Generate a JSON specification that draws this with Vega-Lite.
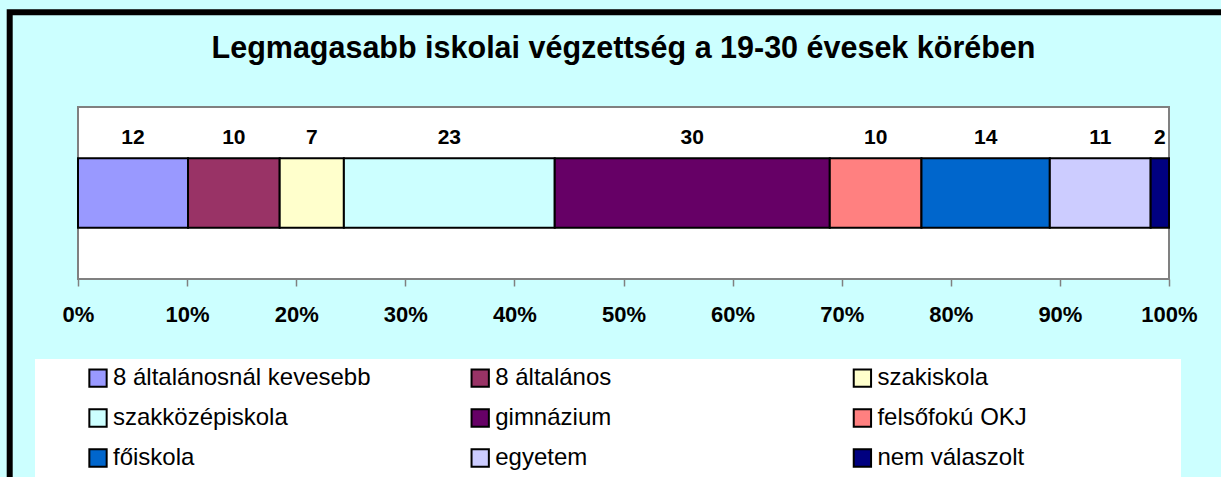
{
  "$schema": "https://vega.github.io/schema/vega-lite/v6.json",
  "autosize": {"type": "none"},
  "width": 1091,
  "height": 172,
  "padding": {"left": 78, "top": 107, "right": 52, "bottom": 198},
  "background": "#CCFFFF",
  "title": {
    "text": "Legmagasabb iskolai végzettség a 19-30 évesek körében",
    "font": "Liberation Sans, Arial",
    "fontSize": 30.5,
    "fontWeight": "bold",
    "color": "#000000",
    "anchor": "middle",
    "frame": "group",
    "baseline": "alphabetic",
    "offset": -79
  },
  "data": {
    "values": [
      {"ord": 1, "cat": "8 általánosnál kevesebb", "v": 12},
      {"ord": 2, "cat": "8 általános", "v": 10},
      {"ord": 3, "cat": "szakiskola", "v": 7},
      {"ord": 4, "cat": "szakközépiskola", "v": 23},
      {"ord": 5, "cat": "gimnázium", "v": 30},
      {"ord": 6, "cat": "felsőfokú OKJ", "v": 10},
      {"ord": 7, "cat": "főiskola", "v": 14},
      {"ord": 8, "cat": "egyetem", "v": 11},
      {"ord": 9, "cat": "nem válaszolt", "v": 2}
    ]
  },
  "transform": [
    {"stack": "v", "groupby": [], "sort": [{"field": "ord", "order": "ascending"}], "offset": "normalize", "as": ["v0", "v1"]},
    {"calculate": "(datum.v0 + datum.v1) / 2", "as": "mid"}
  ],
  "layer": [
    {
      "mark": {"type": "bar", "height": 69.5, "stroke": "#000000", "strokeWidth": 2},
      "encoding": {
        "x": {
          "field": "v0", "type": "quantitative",
          "scale": {"domain": [0, 1], "nice": false, "zero": false},
          "axis": {
            "values": [0, 0.1, 0.2, 0.3, 0.4, 0.5, 0.6, 0.7, 0.8, 0.9, 1],
            "format": ".0%",
            "title": null,
            "grid": false,
            "domain": false,
            "ticks": true,
            "tickColor": "#808080",
            "tickWidth": 1.5,
            "tickSize": 7,
            "labelFont": "Liberation Sans, Arial",
            "labelFontSize": 22,
            "labelFontWeight": "bold",
            "labelColor": "#000000",
            "labelBaseline": "alphabetic",
            "labelPadding": 35,
            "labelOverlap": false,
            "labelFlush": false
          }
        },
        "x2": {"field": "v1"},
        "y": {"datum": "a", "type": "nominal", "axis": null, "scale": {"paddingInner": 0, "paddingOuter": 0}},
        "color": {
          "field": "cat", "type": "nominal",
          "sort": ["8 általánosnál kevesebb", "8 általános", "szakiskola", "szakközépiskola", "gimnázium", "felsőfokú OKJ", "főiskola", "egyetem", "nem válaszolt"],
          "scale": {
            "domain": ["8 általánosnál kevesebb", "8 általános", "szakiskola", "szakközépiskola", "gimnázium", "felsőfokú OKJ", "főiskola", "egyetem", "nem válaszolt"],
            "range": ["#9999FF", "#993366", "#FFFFCC", "#CCFFFF", "#660066", "#FF8080", "#0066CC", "#CCCCFF", "#000080"]
          },
          "legend": {
            "orient": "none",
            "legendX": -43,
            "legendY": 252,
            "direction": "horizontal",
            "columns": 3,
            "gridAlign": "all",
            "padding": 7,
            "rowPadding": 14,
            "columnPadding": 57.2,
            "fillColor": "#FFFFFF",
            "strokeColor": "transparent",
            "symbolType": "square",
            "symbolSize": 300,
            "symbolStrokeColor": "#000000",
            "symbolStrokeWidth": 2,
            "symbolOpacity": 1,
            "labelFont": "Liberation Sans, Arial",
            "labelFontSize": 24,
            "labelColor": "#000000",
            "labelOffset": 3,
            "labelLimit": 800,
            "labelExpr": "datum.index % 3 == 2 ? datum.label + '\u00a0\u00a0\u00a0\u00a0\u00a0\u00a0\u00a0\u00a0\u00a0\u00a0\u00a0\u00a0\u00a0\u00a0\u00a0\u00a0\u00a0\u00a0\u00a0\u00a0\u00a0\u00a0\u200b' : datum.label",
            "title": "\u00a0",
            "titleOrient": "left",
            "titleFontSize": 1,
            "titlePadding": 44
          }
        },
        "order": {"field": "ord", "type": "quantitative"},
        "opacity": {
          "datum": "k", "type": "ordinal",
          "scale": {"range": [1, 1]},
          "legend": {
            "orient": "none", "legendX": -68.3, "legendY": -94.7, "padding": 700,
            "strokeColor": "#000000", "title": null,
            "symbolSize": 0, "symbolStrokeWidth": 0, "labelExpr": "''", "labelFontSize": 1
          }
        },
        "fillOpacity": {
          "datum": "w1", "type": "ordinal",
          "scale": {"range": [1, 1]},
          "legend": {
            "orient": "none", "legendX": -74.65, "legendY": -104, "padding": 700,
            "strokeColor": "#FFFFFF", "title": null,
            "symbolSize": 0, "symbolStrokeWidth": 0, "labelExpr": "''", "labelFontSize": 1
          }
        },
        "strokeOpacity": {
          "datum": "w2", "type": "ordinal",
          "scale": {"range": [1, 1]},
          "legend": {
            "orient": "none", "legendX": -74.65, "legendY": -100.7, "padding": 700,
            "strokeColor": "#FFFFFF", "title": null,
            "symbolSize": 0, "symbolStrokeWidth": 0, "labelExpr": "''", "labelFontSize": 1
          }
        }
      }
    },
    {
      "mark": {"type": "text", "font": "Liberation Sans, Arial", "fontSize": 21, "fontWeight": "bold", "color": "#000000", "baseline": "alphabetic", "align": "center", "dy": -49.5},
      "encoding": {
        "x": {"field": "mid", "type": "quantitative"},
        "y": {"datum": "a", "type": "nominal"},
        "text": {"field": "v", "type": "quantitative"}
      }
    }
  ],
  "config": {
    "view": {"fill": "#FFFFFF", "stroke": "#808080", "strokeWidth": 2},
    "legend": {"strokeWidth": 6}
  }
}
